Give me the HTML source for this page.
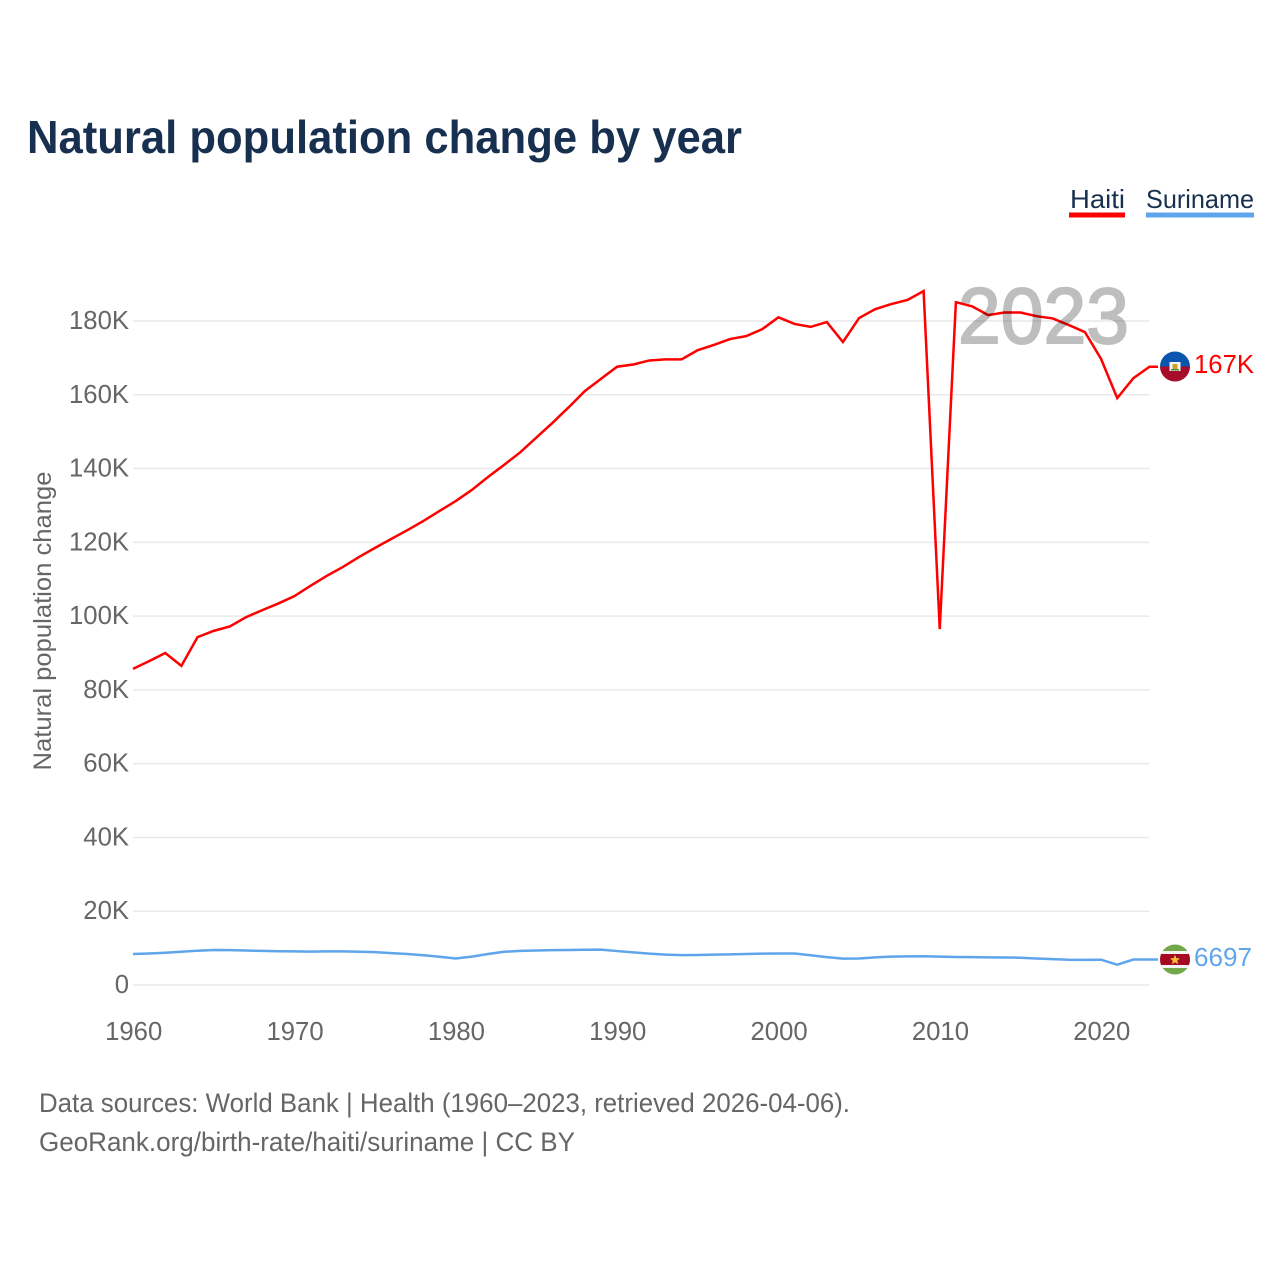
<!DOCTYPE html>
<html lang="en">
<head>
<meta charset="utf-8">
<title>Natural population change by year</title>
<style>
html,body{margin:0;padding:0;background:#fff;}
svg{display:block;font-family:"Liberation Sans",sans-serif;}
</style>
</head>
<body>
<svg id="chart" width="1280" height="1280" viewBox="0 0 1280 1280" xmlns="http://www.w3.org/2000/svg">
<defs>
<clipPath id="flag-clip-a"><circle cx="1175" cy="366.5" r="15"/></clipPath>
<clipPath id="flag-clip-b"><circle cx="1175" cy="959.5" r="15"/></clipPath>
</defs>
<text x="27" y="153" font-size="46" font-weight="700" fill="#18304f" textLength="715" lengthAdjust="spacingAndGlyphs">Natural population change by year</text>

<g>
<text x="1070" y="208" font-size="26" fill="#18304f" textLength="55" lengthAdjust="spacingAndGlyphs">Haiti</text>
<rect x="1069" y="212.5" width="56" height="5" fill="#ff0000"/>
</g>
<g>
<text x="1146" y="208" font-size="26" fill="#18304f" textLength="108" lengthAdjust="spacingAndGlyphs">Suriname</text>
<rect x="1146" y="212.5" width="108" height="5" fill="#5fa5ec"/>
</g>

<g id="grid"></g>
<g id="y-ticks"></g>
<g id="x-ticks"></g>
<text transform="translate(51,621) rotate(-90)" text-anchor="middle" font-size="25" fill="#666" textLength="299" lengthAdjust="spacingAndGlyphs">Natural population change</text>

<g id="series"></g>

<text x="958" y="343" font-size="79" font-weight="400" fill="#000" stroke="#000" stroke-width="2" opacity="0.25" textLength="171" lengthAdjust="spacingAndGlyphs">2023</text>

<g clip-path="url(#flag-clip-a)">
<rect x="1160" y="351" width="30" height="15.5" fill="#0a55ae"/>
<rect x="1160" y="366.5" width="30" height="15.5" fill="#a50d2b"/>
<rect x="1169.5" y="362" width="11" height="9" fill="#f4f4f4"/>
<rect x="1172.5" y="364" width="5" height="5" fill="#c9a227"/>
<rect x="1171" y="369" width="8" height="1.5" fill="#3f8f3f"/>
</g>
<g clip-path="url(#flag-clip-b)">
<rect x="1160" y="944" width="30" height="31" fill="#72a84a"/>
<rect x="1160" y="951" width="30" height="17" fill="#f2f2f2"/>
<rect x="1160" y="954" width="30" height="11" fill="#a50a22"/>
<polygon points="1175,954.8 1176.4,958.2 1180,958.4 1177.2,960.7 1178.1,964.2 1175,962.3 1171.9,964.2 1172.8,960.7 1170,958.4 1173.6,958.2" fill="#f5c23e"/>
</g>
<text id="label-haiti" x="1194" y="373" font-size="26" fill="#ff0000" textLength="60" lengthAdjust="spacingAndGlyphs"></text>
<text id="label-suriname" x="1194" y="966" font-size="26" fill="#5fa5ec" textLength="58" lengthAdjust="spacingAndGlyphs"></text>

<text x="39" y="1112" font-size="27" fill="#666" textLength="811" lengthAdjust="spacingAndGlyphs">Data sources: World Bank | Health (1960–2023, retrieved 2026-04-06).</text>
<text x="39" y="1151" font-size="27" fill="#666" textLength="536" lengthAdjust="spacingAndGlyphs">GeoRank.org/birth-rate/haiti/suriname | CC BY</text>
</svg>
<script>
const years = [1960,1961,1962,1963,1964,1965,1966,1967,1968,1969,1970,1971,1972,1973,1974,1975,1976,1977,1978,1979,1980,1981,1982,1983,1984,1985,1986,1987,1988,1989,1990,1991,1992,1993,1994,1995,1996,1997,1998,1999,2000,2001,2002,2003,2004,2005,2006,2007,2008,2009,2010,2011,2012,2013,2014,2015,2016,2017,2018,2019,2020,2021,2022,2023];
const haitiValues = [85.7,87.8,90,86.5,94.3,96,97.2,99.7,101.6,103.4,105.4,108.2,110.9,113.3,116,118.5,120.9,123.3,125.8,128.5,131.2,134.2,137.7,141,144.4,148.4,152.4,156.6,161,164.3,167.6,168.2,169.3,169.6,169.6,172.1,173.5,175.1,175.9,177.8,181,179.2,178.4,179.7,174.3,180.8,183.2,184.6,185.7,188.1,96.5,185.1,184,181.6,182.3,182.3,181.3,180.7,178.9,177,169.7,159.1,164.5,167.6];
const surinameValues = [8.4,8.55,8.75,9,9.3,9.5,9.45,9.35,9.25,9.15,9.1,9.05,9.1,9.1,9,8.9,8.65,8.4,8.05,7.65,7.2,7.7,8.4,9,9.25,9.35,9.45,9.5,9.55,9.6,9.2,8.85,8.5,8.25,8.1,8.15,8.25,8.3,8.4,8.5,8.55,8.55,8.05,7.55,7.15,7.2,7.5,7.7,7.75,7.8,7.7,7.6,7.55,7.5,7.45,7.4,7.2,7,6.85,6.8,6.85,5.5,6.9,6.9];
const yTickValues = [0,20,40,60,80,100,120,140,160,180];
const yTickLabels = ["0","20K","40K","60K","80K","100K","120K","140K","160K","180K"];
const xTickValues = [1960,1970,1980,1990,2000,2010,2020];
const xTickLabels = ["1960","1970","1980","1990","2000","2010","2020"];
const haitiEndLabel = "167K";
const surinameEndLabel = "6697";

const NS = "http://www.w3.org/2000/svg";
const plotLeft = 133, plotRight = 1149.5, plotZero = 985, plot180 = 321;
function xScale(year) { return plotLeft + (year - 1960) * (plotRight - plotLeft) / 63; }
function yScale(value) { return plotZero - value * (plotZero - plot180) / 180; }

const gridGroup = document.getElementById("grid");
const yTickGroup = document.getElementById("y-ticks");
yTickValues.forEach(function (value, i) {
  const line = document.createElementNS(NS, "line");
  line.setAttribute("x1", plotLeft);
  line.setAttribute("x2", plotRight);
  line.setAttribute("y1", yScale(value));
  line.setAttribute("y2", yScale(value));
  line.setAttribute("stroke", "#e9e9e9");
  line.setAttribute("stroke-width", "1.5");
  
  
  gridGroup.appendChild(line);

  const label = document.createElementNS(NS, "text");
  label.setAttribute("x", 129);
  label.setAttribute("y", yScale(value) + 8);
  label.setAttribute("text-anchor", "end");
  label.setAttribute("font-size", "25.7");
  label.setAttribute("fill", "#666");
  label.textContent = yTickLabels[i];
  
  
  yTickGroup.appendChild(label);
});

const xTickGroup = document.getElementById("x-ticks");
xTickValues.forEach(function (year, i) {
  const label = document.createElementNS(NS, "text");
  label.setAttribute("x", xScale(year) + 0.7);
  label.setAttribute("y", 1040);
  label.setAttribute("text-anchor", "middle");
  label.setAttribute("font-size", "25.7");
  label.setAttribute("fill", "#666");
  label.textContent = xTickLabels[i];
  
  
  xTickGroup.appendChild(label);
});

function linePath(values) {
  let d = "";
  values.forEach(function (value, i) {
    d += (i ? "L" : "M") + xScale(years[i]).toFixed(2) + " " + yScale(value).toFixed(2);
  });
  d += "H1158";
  return d;
}

const seriesGroup = document.getElementById("series");
const haitiLine = document.createElementNS(NS, "path");
haitiLine.setAttribute("d", linePath(haitiValues));
haitiLine.setAttribute("fill", "none");
haitiLine.setAttribute("stroke", "#ff0000");
haitiLine.setAttribute("stroke-width", "2.5");
haitiLine.setAttribute("stroke-linejoin", "miter");


seriesGroup.appendChild(haitiLine);

const surinameLine = document.createElementNS(NS, "path");
surinameLine.setAttribute("d", linePath(surinameValues));
surinameLine.setAttribute("fill", "none");
surinameLine.setAttribute("stroke", "#5fa5ec");
surinameLine.setAttribute("stroke-width", "2.5");


seriesGroup.appendChild(surinameLine);

document.getElementById("label-haiti").textContent = haitiEndLabel;
document.getElementById("label-suriname").textContent = surinameEndLabel;
</script>
</body>
</html>
